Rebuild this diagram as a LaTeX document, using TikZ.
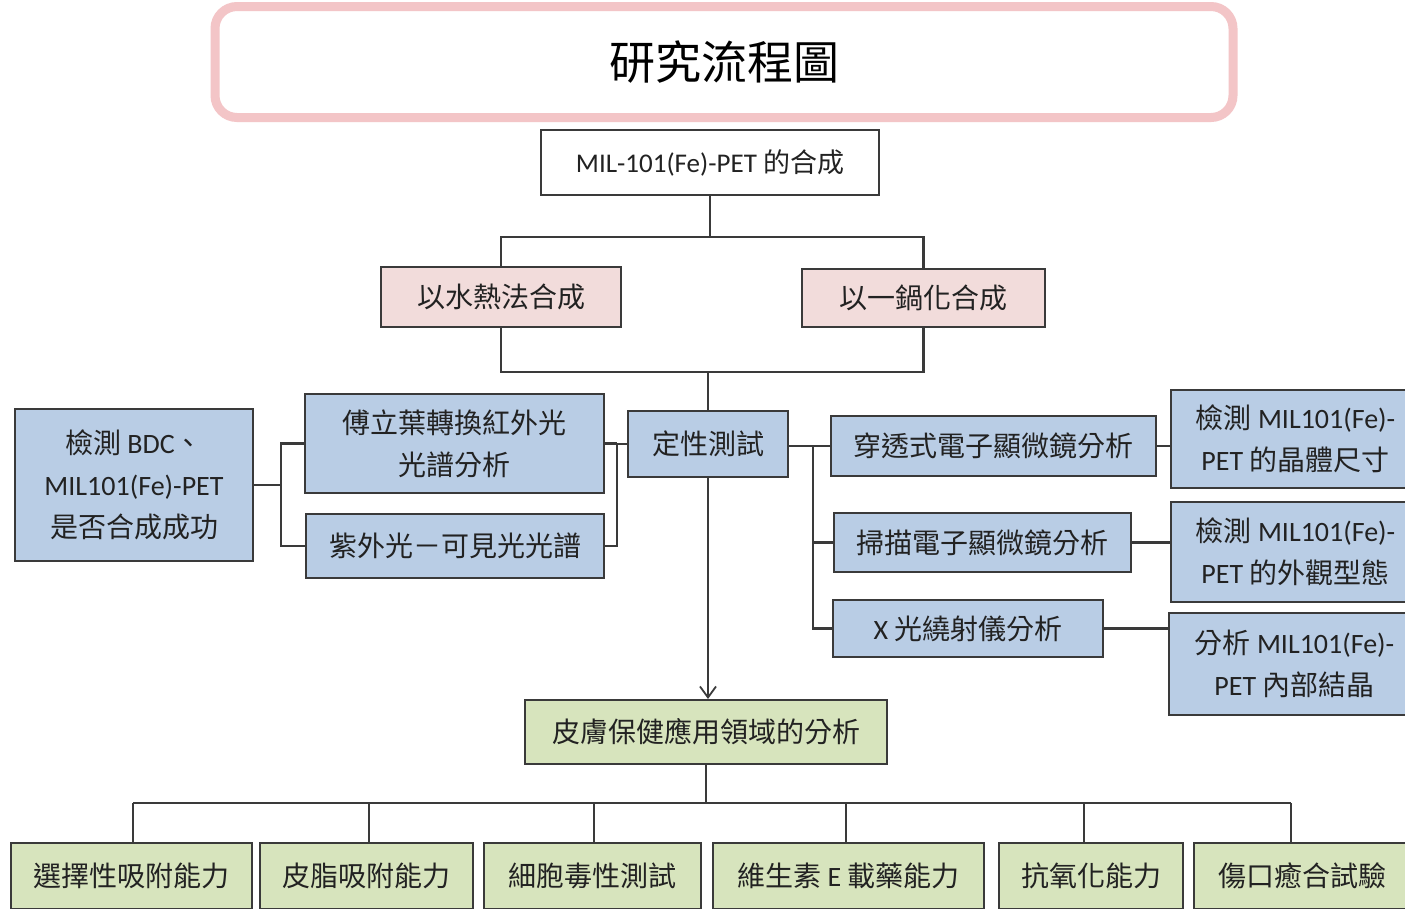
\documentclass[tikz,border=0pt]{standalone}
\usepackage{fontspec}
\setmainfont{Noto Sans CJK TC}
\newfontfamily\lat{Carlito}
\usetikzlibrary{arrows.meta}
\definecolor{tpink}{HTML}{F3C5C7}
\definecolor{fpink}{HTML}{F2DCDB}
\definecolor{fblue}{HTML}{B9CDE5}
\definecolor{fgreen}{HTML}{D7E4BD}
\definecolor{edgec}{HTML}{3A3A3A}
\definecolor{txt}{HTML}{222222}
\begin{document}
\begin{tikzpicture}[x=1pt,y=-1pt,
  box/.style={draw=edgec, line width=2pt, inner sep=0pt, align=center, text=txt,
    font=\fontsize{28}{42}\selectfont},
  bluebox/.style={box, fill=fblue},
  pinkbox/.style={box, fill=fpink},
  greenbox/.style={box, fill=fgreen},
  wh/.style 2 args={minimum width=#1pt, minimum height=#2pt},
  conn/.style={draw=edgec, line width=2.2pt},
  arr/.style={conn, -{Straight Barb[length=11pt,width=16pt,line width=1.8pt]}}
]
\useasboundingbox (0,0) rectangle (1405,908);
\clip (0,0) rectangle (1405,908);
\fill[white] (0,0) rectangle (1405,908);

% title
\node[draw=tpink, line width=9pt, rounded corners=22pt, fill=white, wh={1018}{111},
  font=\fontsize{46}{50}\selectfont, text=black] (title) at (724,62) {研究流程圖};

% synthesis
\node[box, fill=white, wh={338}{65}, font=\fontsize{27}{40}\selectfont] (top) at (710,162.5) {{\lat MIL-101(Fe)-PET }的合成};
\node[pinkbox, wh={240}{60}] (hydro) at (501,297) {以水熱法合成};
\node[pinkbox, wh={243}{58}] (onepot) at (923.5,298) {以一鍋化合成};

% qualitative tests
\node[bluebox, wh={160}{66}] (qual) at (708,444) {定性測試};
\node[bluebox, wh={299}{99}] (ftir) at (454.5,443.5) {傅立葉轉換紅外光\\光譜分析};
\node[bluebox, wh={298}{64}] (uv) at (455,546) {紫外光－可見光光譜};
\node[bluebox, wh={238}{152}] (bdc) at (134,485) {檢測 {\lat BDC}、\\{\lat MIL101(Fe)-PET}\\是否合成成功};
\node[bluebox, wh={325}{60}] (tem) at (993.5,446) {穿透式電子顯微鏡分析};
\node[bluebox, wh={297}{59}] (sem) at (982.5,542.5) {掃描電子顯微鏡分析};
\node[bluebox, wh={270}{57}] (xrd) at (968,628.5) {{\lat X }光繞射儀分析};
\node[bluebox, wh={249}{98}] (r1) at (1295.5,439) {檢測 {\lat MIL101(Fe)-}\\{\lat PET }的晶體尺寸};
\node[bluebox, wh={249}{100}] (r2) at (1295.5,552) {檢測 {\lat MIL101(Fe)-}\\{\lat PET }的外觀型態};
\node[bluebox, wh={251}{102}] (r3) at (1294.5,664) {分析 {\lat MIL101(Fe)-}\\{\lat PET }內部結晶};

% skin application
\node[greenbox, wh={362}{64}] (skin) at (706,732) {皮膚保健應用領域的分析};
\node[greenbox, wh={241}{66}] (b1) at (131.5,876) {選擇性吸附能力};
\node[greenbox, wh={213}{66}] (b2) at (366.5,876) {皮脂吸附能力};
\node[greenbox, wh={217}{66}] (b3) at (592.5,876) {細胞毒性測試};
\node[greenbox, wh={271}{66}] (b4) at (848.5,876) {維生素 {\lat E }載藥能力};
\node[greenbox, wh={184}{66}] (b5) at (1091,876) {抗氧化能力};
\node[greenbox, wh={216}{66}] (b6) at (1302,876) {傷口癒合試驗};

% junction coordinates
\coordinate (j1) at (709,237);
\coordinate (j2) at (708,372);
\coordinate (j3) at (617,444);
\coordinate (j4) at (281,485);
\coordinate (j5) at (813,446);
\coordinate (j6) at (706,803);
\coordinate (d1) at (133,803);
\coordinate (d2) at (369,803);
\coordinate (d3) at (594,803);
\coordinate (d4) at (846,803);
\coordinate (d5) at (1084,803);
\coordinate (d6) at (1291,803);

% connectors
\draw[conn] (top.south) -- (top.south |- j1);
\draw[conn] (hydro.north) -- (hydro.north |- j1) -- (onepot.north |- j1) -- (onepot.north);
\draw[conn] (hydro.south) -- (hydro.south |- j2) -- (onepot.south |- j2) -- (onepot.south);
\draw[conn] (j2) -- (qual.north);
\draw[conn] (qual.west) -- (j3);
\draw[conn] (ftir.east) -- (ftir.east -| j3);
\draw[conn] (uv.east) -| (j3);
\draw[conn] (bdc.east) -- (j4);
\draw[conn] (ftir.west) -| (j4);
\draw[conn] (uv.west) -| (j4);
\draw[conn] (qual.east |- j5) -- (tem.west);
\draw[conn] (j5) |- (sem.west);
\draw[conn] (j5) |- (xrd.west);
\draw[conn] (tem.east) -- (tem.east -| r1.west);
\draw[conn] (sem.east) -- (sem.east -| r2.west);
\draw[conn] (xrd.east) -- (xrd.east -| r3.west);
\draw[arr] (qual.south) -- (qual.south |- skin.north);
\draw[conn] (skin.south) -- (skin.south |- j6);
\draw[conn] (d1) -- (d6);
\draw[conn] (d1) -- (d1 |- b1.north);
\draw[conn] (d2) -- (d2 |- b2.north);
\draw[conn] (d3) -- (d3 |- b3.north);
\draw[conn] (d4) -- (d4 |- b4.north);
\draw[conn] (d5) -- (d5 |- b5.north);
\draw[conn] (d6) -- (d6 |- b6.north);
\end{tikzpicture}
\end{document}
